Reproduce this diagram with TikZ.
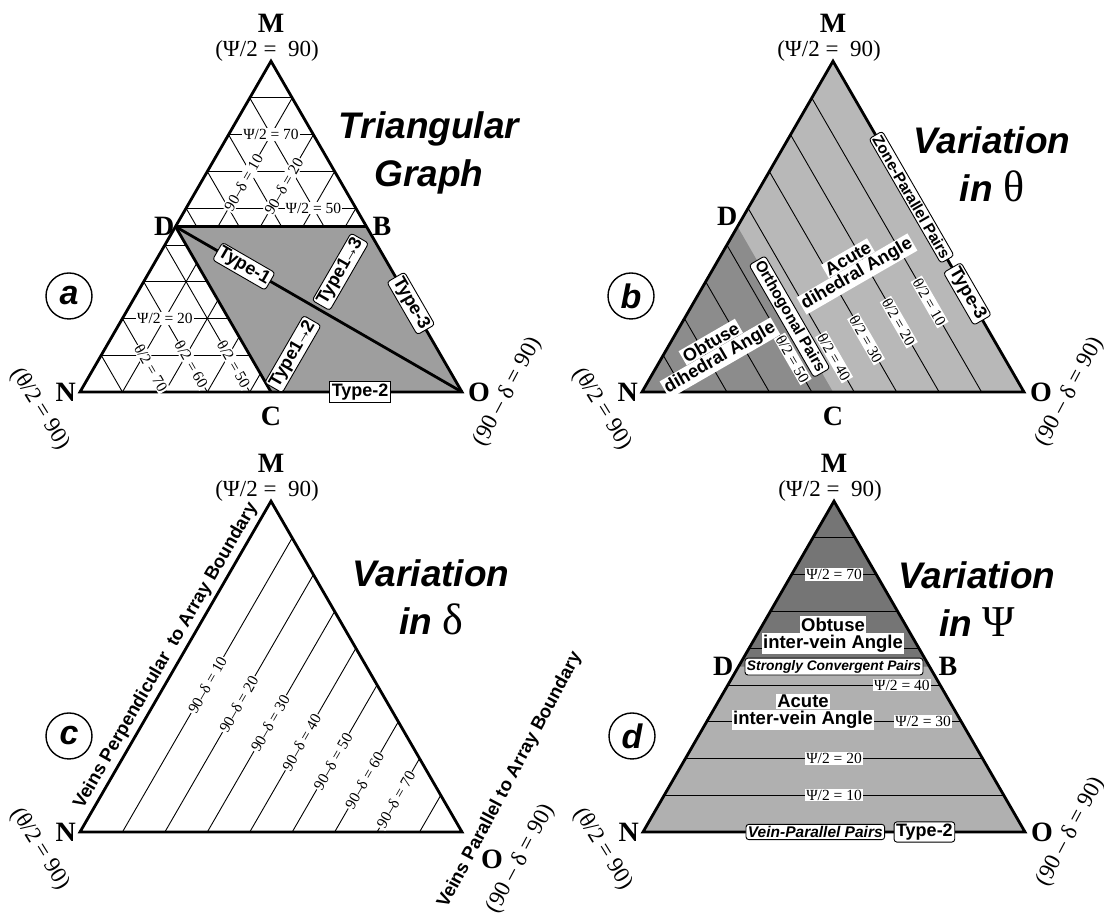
\documentclass[tikz,border=0pt]{standalone}
\usepackage{fontspec}
\setmainfont{Liberation Serif}
\setsansfont{Liberation Sans}
\usetikzlibrary{positioning}
\definecolor{shadea}{gray}{0.62}
\definecolor{shadeblight}{gray}{0.72}
\definecolor{shadebdark}{gray}{0.55}
\definecolor{shadedlight}{gray}{0.69}
\definecolor{shadeddark}{gray}{0.46}

% corners of one ternary panel, in (90-delta, psi/2) units
\newcommand\tricorners[1]{%
  \coordinate (#1N) at (0,0);
  \coordinate (#1O) at (90,0);
  \coordinate (#1M) at (0,90);
  \coordinate (#1D) at (0,45);
  \coordinate (#1B) at (45,45);
  \coordinate (#1C) at (45,0);
}
% outline, end members and panel letter
\newcommand\triframe[3]{%
  \draw[rim] (#1N) -- (#1O) -- (#1M) -- cycle;
  \node[vtx] (#1Mlbl) at (191pt,369pt) {M};
  \node[endval] (#1Mval) at (187pt,341pt) {(Ψ/2 = \ 90)};
  \node[vtx,left=4pt of #1N] (#1Nlbl) {N};
  \node[vtx,right=#3 of #1O,yshift=#2] (#1Olbl) {O};
  \node[endval,rotate=-58] (#1Nval) at (-40pt,-17pt) {(θ/2 = 90)};
  \node[endval,rotate=62] (#1Oval) at ([shift={(#3,#2)}]422pt,0pt) {(90 – δ = 90)};
  \node[panel] (#1tag) at (-11pt,96pt) {#1};
}
\newcommand\tto{\kern-2.5pt→\kern-2.5pt}

\begin{document}
\begin{tikzpicture}[x=1pt,y=1pt,
    rim/.style={line width=2.8pt,line join=miter},
    heavy/.style={line width=2.8pt},
    fine/.style={line width=0.9pt},
    vtx/.style={inner sep=0pt,font=\fontsize{28}{28}\selectfont\bfseries},
    endval/.style={inner sep=0pt,font=\fontsize{23}{23}\selectfont},
    val/.style={fill=white,inner sep=1pt,font=\fontsize{15.5}{15.5}\selectfont},
    tag/.style={draw,fill=white,rounded corners=3pt,line width=0.9pt,inner sep=2pt,
      font=\sffamily\bfseries\fontsize{18}{18}\selectfont},
    note/.style={fill=white,inner sep=1.5pt,font=\sffamily\bfseries\fontsize{18}{18}\selectfont},
    side/.style={inner sep=0pt,font=\sffamily\bfseries\fontsize{18.5}{18.5}\selectfont},
    ttl/.style={align=center,font=\sffamily\bfseries\itshape\fontsize{37}{48}\selectfont},
    panel/.style={circle,draw,line width=1.4pt,minimum size=46pt,inner sep=0pt,
      font=\sffamily\bfseries\itshape\fontsize{34}{34}\selectfont},
    tern/.style={x={(4.2444pt,0pt)},y={(2.1222pt,3.6756pt)}}]
\useasboundingbox (0,0) rectangle (1104,913);

% (a) the triangular graph
\begin{scope}[shift={(80pt,521pt)},tern]
  \tricorners{a}
  \foreach \v in {10,20,...,80}{
    \draw[fine] (0,\v) -- ({90-\v},\v);
    \draw[fine] (\v,0) -- (\v,{90-\v});
    \draw[fine] ({90-\v},0) -- (0,{90-\v});
  }
  \fill[shadea] (aD) -- (aB) -- (aO) -- (aC) -- cycle;
  \draw[heavy] (aD) -- (aB);
  \draw[heavy] (aD) -- (aC);
  \draw[heavy] (aD) -- (aO);
  \triframe{a}{0pt}{6pt}
  \node[vtx,left=1pt of aD] (aDlbl) {D};
  \node[vtx,right=6pt of aB] (aBlbl) {B};
  \node[vtx,below=15pt of aC] (aClbl) {C};
  \node[val] (aPsi70) at (10,70) {Ψ/2 = 70};
  \node[val] (aPsi50) at (30,50) {Ψ/2 = 50};
  \node[val,rotate=60] (aDel10) at (10,57) {90–δ = 10};
  \node[val,rotate=60] (aDel20) at (20,56) {90–δ = 20};
  \node[val] (aPsi20) at (10,20) {Ψ/2 = 20};
  \node[val,rotate=-60] (aTh70) at (13.5,6.5) {θ/2 = 70};
  \node[val,rotate=-60] (aTh60) at (22.5,7.5) {θ/2 = 60};
  \node[val,rotate=-60] (aTh50) at (32.5,7.5) {θ/2 = 50};
  \node[tag,rotate=-30] (aT1) at (21.5,34.2) {Type-1};
  \node[tag,rotate=60] (aT13) at (45,32.7) {Type1\tto3};
  \node[tag,rotate=60] (aT12) at (45,10.3) {Type1\tto2};
  \node[tag,rotate=-60] (aT3) at (65.9,24.1) {Type-3};
  \node[tag,sharp corners] (aT2) at (66,0) {Type-2};
  \node[ttl] (aTitle) at (349pt,239pt) {Triangular\\Graph};
\end{scope}

% (b) variation in theta
\begin{scope}[shift={(642pt,521pt)},tern]
  \tricorners{b}
  \fill[shadeblight] (bN) -- (bO) -- (bM) -- cycle;
  \fill[shadebdark] (bN) -- (bC) -- (bD) -- cycle;
  \foreach \v in {10,20,...,80}
    \draw[fine] ({90-\v},0) -- (0,{90-\v});
  \triframe{b}{0pt}{6pt}
  \node[vtx,left=0pt of bD,yshift=10pt] (bDlbl) {D};
  \node[vtx,below=15pt of bC] (bClbl) {C};
  \node[val,rotate=-60] (bTh10) at (55.5,24.5) {θ/2 = 10};
  \node[val,rotate=-60] (bTh20) at (51,19) {θ/2 = 20};
  \node[val,rotate=-60] (bTh30) at (45.6,14.4) {θ/2 = 30};
  \node[val,rotate=-60] (bTh40) at (40.5,9.5) {θ/2 = 40};
  \node[val,rotate=-60] (bTh50) at (31,9) {θ/2 = 50};
  \node[note,rotate=30] (bObt2) at (78pt,34pt) {dihedral Angle};
  \node[note,rotate=30,anchor=south] (bObt1) at (bObt2.north) {Obtuse};
  \node[note,rotate=30] (bAcu2) at (215pt,118pt) {dihedral Angle};
  \node[note,rotate=30,anchor=south] (bAcu1) at (bAcu2.north) {Acute};
  \node[tag,rotate=-60,font=\sffamily\bfseries\fontsize{15.5}{15.5}\selectfont] (bOrth) at (24.5,20.5) {Orthogonal Pairs};
  \node[tag,rotate=-60,font=\sffamily\bfseries\fontsize{15.5}{15.5}\selectfont] (bZone) at (37,53) {Zone-Parallel Pairs};
  \node[tag,rotate=-60] (bT3) at (63.3,26.7) {Type-3};
  \node[ttl] (bTitle) at (350pt,228pt) {Variation\\in {\rmfamily\mdseries\upshape\fontsize{44}{48}\selectfont θ}};
\end{scope}

% (c) variation in delta
\begin{scope}[shift={(80pt,81pt)},tern]
  \tricorners{c}
  \foreach \v in {10,20,...,80}
    \draw[fine] (\v,0) -- (\v,{90-\v});
  \triframe{c}{-27pt}{19pt}
  \foreach \v/\p in {10/40,20/34.8,30/29.6,40/24.4,50/19.2,60/14,70/8.8}
    \node[val,rotate=60] (cDel\v) at (\v,\p) {90–δ = \v};
  \node[side,rotate=60] (cPerp) at (86pt,176pt) {Veins Perpendicular\ \ to Array Boundary};
  \node[side,rotate=62] (cPara) at (430pt,52pt) {Veins Parallel to Array Boundary};
  \node[ttl] (cTitle) at (351pt,235pt) {Variation\\in {\rmfamily\mdseries\upshape\fontsize{44}{48}\selectfont δ}};
\end{scope}

% (d) variation in psi
\begin{scope}[shift={(643pt,81pt)},tern]
  \tricorners{d}
  \fill[shadedlight] (dN) -- (dO) -- (dM) -- cycle;
  \fill[shadeddark] (dD) -- (dB) -- (dM) -- cycle;
  \foreach \v in {10,20,...,80}
    \draw[fine] (0,\v) -- ({90-\v},\v);
  \triframe{d}{0pt}{6pt}
  \node[vtx,left=5pt of dD] (dDlbl) {D};
  \node[vtx,right=9pt of dB] (dBlbl) {B};
  \node[val] (dPsi70) at (10,70) {Ψ/2 = 70};
  \node[val] (dPsi40) at (41,40) {Ψ/2 = 40};
  \node[val] (dPsi30) at (51,30) {Ψ/2 = 30};
  \node[val] (dPsi20) at (35,20) {Ψ/2 = 20};
  \node[val] (dPsi10) at (40,10) {Ψ/2 = 10};
  \node[note,font=\sffamily\bfseries\fontsize{18.5}{18.5}\selectfont] (dObt2) at (190pt,188.6pt) {inter-vein Angle};
  \node[note,above=0pt of dObt2,font=\sffamily\bfseries\fontsize{18.5}{18.5}\selectfont] (dObt1) {Obtuse};
  \node[note,font=\sffamily\bfseries\fontsize{18.5}{18.5}\selectfont] (dAcu2) at (160pt,112pt) {inter-vein Angle};
  \node[note,above=0pt of dAcu2,font=\sffamily\bfseries\fontsize{18.5}{18.5}\selectfont] (dAcu1) {Acute};
  \node[tag,font=\sffamily\bfseries\itshape\fontsize{13.8}{13.8}\selectfont] (dStrong) at (22.5,45) {Strongly Convergent Pairs};
  \node[tag,font=\sffamily\bfseries\itshape\fontsize{15.5}{15.5}\selectfont] (dVein) at (40.6,0) {Vein-Parallel Pairs};
  \node[tag] (dT2) at (66.3,0) {Type-2};
  \node[ttl] (dTitle) at (334pt,233pt) {Variation\\in {\rmfamily\mdseries\upshape\fontsize{44}{48}\selectfont Ψ}};
\end{scope}
\end{tikzpicture}
\end{document}
